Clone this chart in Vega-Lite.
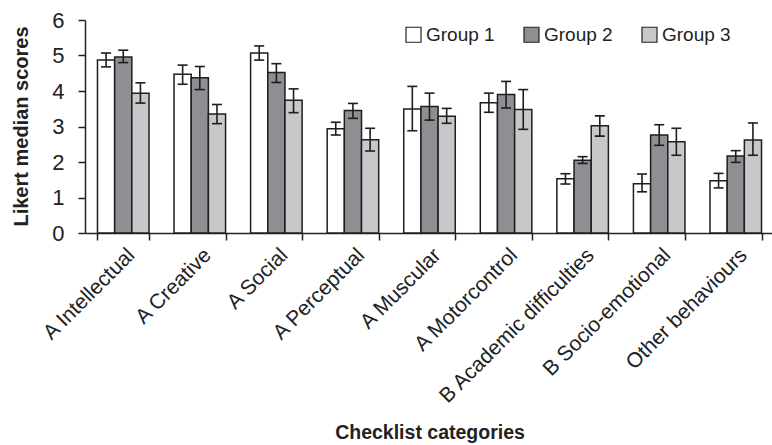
{
  "$schema": "https://vega.github.io/schema/vega-lite/v6.json",
  "width": 689,
  "height": 213,
  "autosize": {"type": "none"},
  "padding": {"left": 85, "top": 20, "right": 0, "bottom": 212},
  "background": "white",
  "config": {"view": {"stroke": null}, "font": "Liberation Sans"},
  "data": {"values": [
    {"category": "A Intellectual", "group": "Group 1", "value": 4.87, "lo": 4.68, "hi": 5.07},
    {"category": "A Intellectual", "group": "Group 2", "value": 4.96, "lo": 4.80, "hi": 5.15},
    {"category": "A Intellectual", "group": "Group 3", "value": 3.94, "lo": 3.66, "hi": 4.23},
    {"category": "A Creative", "group": "Group 1", "value": 4.47, "lo": 4.19, "hi": 4.73},
    {"category": "A Creative", "group": "Group 2", "value": 4.37, "lo": 4.04, "hi": 4.69},
    {"category": "A Creative", "group": "Group 3", "value": 3.35, "lo": 3.08, "hi": 3.62},
    {"category": "A Social", "group": "Group 1", "value": 5.07, "lo": 4.87, "hi": 5.27},
    {"category": "A Social", "group": "Group 2", "value": 4.52, "lo": 4.24, "hi": 4.77},
    {"category": "A Social", "group": "Group 3", "value": 3.74, "lo": 3.39, "hi": 4.06},
    {"category": "A Perceptual", "group": "Group 1", "value": 2.94, "lo": 2.76, "hi": 3.12},
    {"category": "A Perceptual", "group": "Group 2", "value": 3.45, "lo": 3.23, "hi": 3.65},
    {"category": "A Perceptual", "group": "Group 3", "value": 2.63, "lo": 2.31, "hi": 2.95},
    {"category": "A Muscular", "group": "Group 1", "value": 3.49, "lo": 2.88, "hi": 4.13},
    {"category": "A Muscular", "group": "Group 2", "value": 3.56, "lo": 3.18, "hi": 3.94},
    {"category": "A Muscular", "group": "Group 3", "value": 3.29, "lo": 3.09, "hi": 3.51},
    {"category": "A Motorcontrol", "group": "Group 1", "value": 3.67, "lo": 3.40, "hi": 3.94},
    {"category": "A Motorcontrol", "group": "Group 2", "value": 3.90, "lo": 3.52, "hi": 4.27},
    {"category": "A Motorcontrol", "group": "Group 3", "value": 3.48, "lo": 2.92, "hi": 4.04},
    {"category": "B Academic difficulties", "group": "Group 1", "value": 1.53, "lo": 1.38, "hi": 1.67},
    {"category": "B Academic difficulties", "group": "Group 2", "value": 2.05, "lo": 1.96, "hi": 2.15},
    {"category": "B Academic difficulties", "group": "Group 3", "value": 3.02, "lo": 2.73, "hi": 3.30},
    {"category": "B Socio-emotional", "group": "Group 1", "value": 1.39, "lo": 1.16, "hi": 1.66},
    {"category": "B Socio-emotional", "group": "Group 2", "value": 2.76, "lo": 2.47, "hi": 3.05},
    {"category": "B Socio-emotional", "group": "Group 3", "value": 2.57, "lo": 2.19, "hi": 2.95},
    {"category": "Other behaviours", "group": "Group 1", "value": 1.47, "lo": 1.27, "hi": 1.68},
    {"category": "Other behaviours", "group": "Group 2", "value": 2.17, "lo": 1.99, "hi": 2.32},
    {"category": "Other behaviours", "group": "Group 3", "value": 2.62, "lo": 2.19, "hi": 3.10}
  ]},
  "encoding": {
    "x": {
      "field": "category", "type": "nominal", "sort": null,
      "scale": {"paddingInner": 0.327, "paddingOuter": 0.163},
      "axis": {
        "tickBand": "extent", "domainColor": "#222", "domainWidth": 1.5,
        "tickColor": "#222", "tickWidth": 1.5, "tickSize": 7,
        "labelAngle": -45, "labelFontSize": 21, "labelColor": "#222", "labelPadding": 4, "labelDx": -11,
        "labelOverlap": false, "labelLimit": 400,
        "title": "Checklist categories", "titleFontSize": 19.5, "titleFontWeight": "bold",
        "titleColor": "#222", "titleY": 199, "titleBaseline": "middle"
      }
    },
    "xOffset": {"field": "group", "type": "nominal", "sort": null, "scale": {"paddingInner": 0, "paddingOuter": 0}}
  },
  "resolve": {"axis": {"y": "independent"}},
  "layer": [
    {
      "mark": {"type": "bar", "stroke": "#1e1e1e", "strokeWidth": 1.5},
      "encoding": {
        "y": {
          "field": "value", "type": "quantitative", "scale": {"domain": [0, 6]},
          "title": "Likert  median scores",
          "axis": {
            "values": [0, 1, 2, 3, 4, 5, 6], "tickCount": 7, "grid": false, "labelOverlap": false,
            "domainColor": "#222", "domainWidth": 1.5, "tickColor": "#222", "tickWidth": 1.5, "tickSize": 7,
            "labelFontSize": 22, "labelColor": "#222", "labelPadding": 14,
            "titleFontSize": 20, "titleFontWeight": "bold", "titleColor": "#222",
            "titleX": -64, "titleY": 106, "titleBaseline": "middle"
          }
        },
        "fill": {
          "field": "group", "type": "nominal",
          "scale": {"domain": ["Group 1", "Group 2", "Group 3"], "range": ["#ffffff", "#8e8f92", "#c7c8ca"]},
          "legend": {
            "orient": "none", "legendX": 319, "legendY": 5, "direction": "horizontal",
            "title": null, "symbolType": "square", "symbolSize": 225,
            "symbolStrokeColor": "#222", "symbolStrokeWidth": 1.2, "symbolOpacity": 1,
            "labelFontSize": 19, "labelColor": "#222", "labelOffset": 3,
            "columnPadding": 26, "padding": 0
          }
        }
      }
    },
    {
      "mark": {"type": "rule", "color": "#1e1e1e", "strokeWidth": 1.6},
      "encoding": {
        "y": {"field": "lo", "type": "quantitative", "axis": null},
        "y2": {"field": "hi"}
      }
    },
    {
      "mark": {"type": "tick", "color": "#1e1e1e", "thickness": 1.6, "size": 10, "opacity": 1},
      "encoding": {"y": {"field": "lo", "type": "quantitative", "axis": null}}
    },
    {
      "mark": {"type": "tick", "color": "#1e1e1e", "thickness": 1.6, "size": 10, "opacity": 1},
      "encoding": {"y": {"field": "hi", "type": "quantitative", "axis": null}}
    }
  ]
}
